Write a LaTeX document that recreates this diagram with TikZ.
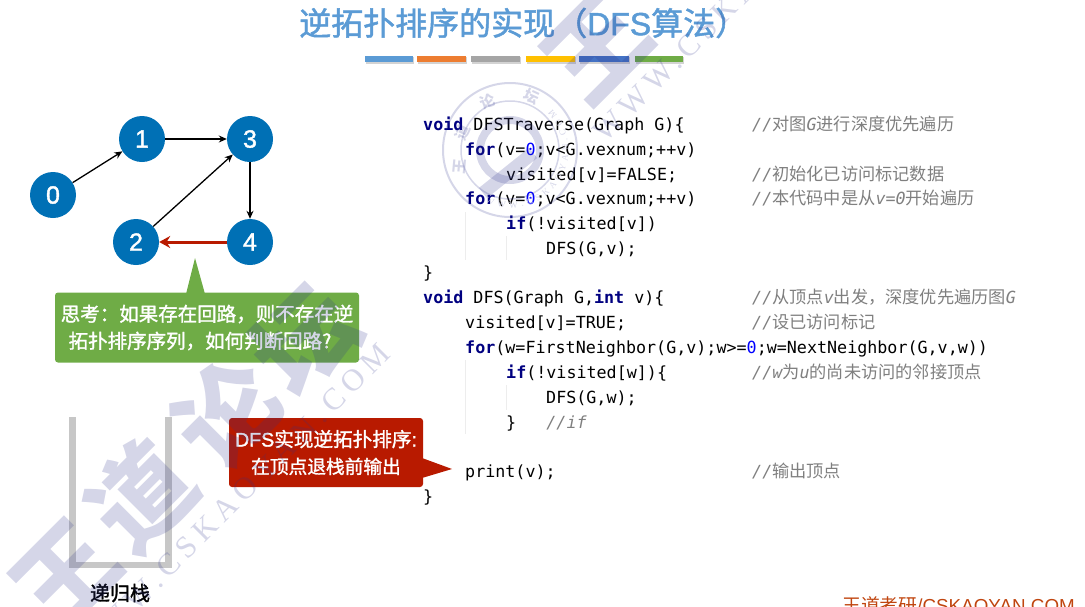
\documentclass[tikz,border=0pt]{standalone}
\usepackage{fontspec}
\usepackage{tikz}
\usetikzlibrary{arrows.meta,positioning,shadows,decorations.text}
\setmainfont{Liberation Sans}
\setmonofont{DejaVu Sans Mono}
\newfontfamily\cjk{Noto Sans CJK SC}
\newfontfamily\cjkmid[FakeBold=1.5]{Noto Sans CJK SC}
\newfontfamily\cjkcmt[Scale=1.03]{Noto Sans CJK SC}
\newfontfamily\latinmid[FakeBold=1.5]{Liberation Sans}
\newfontfamily\wmserif[LetterSpace=20]{Liberation Serif}
\newcommand{\zh}[1]{{\cjkcmt\upshape #1}}
\newcommand{\zhm}[1]{{\cjkmid #1}}
\newcommand{\kw}[1]{\textcolor{kwnavy}{\textbf{#1}}}
\newcommand{\zero}{\textcolor{numblue}{0}}
\newcommand{\cmt}[1]{\textcolor{cmtgray}{\itshape #1}}
\definecolor{kwnavy}{HTML}{000080}
\definecolor{numblue}{HTML}{0000FF}
\definecolor{cmtgray}{HTML}{7F7F7F}
\definecolor{vertblue}{HTML}{0070B5}
\definecolor{titleblue}{HTML}{5B9BD5}
\definecolor{barorange}{HTML}{ED7D31}
\definecolor{bargray}{HTML}{A5A5A5}
\definecolor{baryellow}{HTML}{FFC000}
\definecolor{bardark}{HTML}{4472C4}
\definecolor{notegreen}{HTML}{6FAC46}
\definecolor{notered}{HTML}{B81A00}
\definecolor{footorange}{HTML}{C0450F}
\definecolor{wmblue}{HTML}{2D328C}
\definecolor{wmpale}{HTML}{D5D6E8}

\begin{document}
\begin{tikzpicture}[
    x=1pt, y=-1pt,
    vert/.style={circle, fill=vertblue, text=white, inner sep=0pt,
                 minimum size=46pt, font=\fontsize{25}{25}\latinmid},
    arr/.style={-{Stealth[length=8pt,width=7pt]}, line width=1.3pt, black},
    redarr/.style={-{Stealth[length=11pt,width=12pt]}, line width=3pt, notered},
    bar/.style={rectangle, inner sep=0pt, minimum height=6.5pt,
                drop shadow={shadow xshift=0.5pt, shadow yshift=-1.5pt, opacity=0.35}},
    code/.style={anchor=base west, inner sep=0pt,
                 font=\fontsize{16.7}{16.7}\selectfont\ttfamily},
    guide/.style={line width=0.5pt, black!7},
    notebox/.style={rectangle, rounded corners=3pt, text=white, inner sep=0pt, align=center},
    wmtext/.style={rotate=45, text=wmblue, text opacity=0.2, inner sep=0pt},
    wmbig/.style={wmtext, font=\fontsize{100}{100}\cjk\bfseries},
    wmsmall/.style={text=wmblue, text opacity=0.2, inner sep=0pt, font=\fontsize{15}{15}\cjk\bfseries},
    wmline/.style={wmblue, opacity=0.2},
]
\useasboundingbox (0,0) rectangle (1085,606);
\clip (0,0) rectangle (1085,606);

% title
\node[anchor=west, font=\fontsize{32}{32}\latinmid, text=titleblue, inner sep=0pt] (title) at (299,23)
    {\zhm{逆拓扑排序的实现（}DFS\zhm{算法）}};

% colour bars
\node[bar, fill=titleblue, minimum width=48pt] (b1) at (389,59) {};
\node[bar, fill=barorange, minimum width=49pt] (b2) at (441.5,59) {};
\node[bar, fill=bargray, minimum width=49pt] (b3) at (495.5,59) {};
\node[bar, fill=baryellow, minimum width=49pt] (b4) at (550.5,59) {};
\node[bar, fill=bardark, minimum width=50pt] (b5) at (604,59) {};
\node[bar, fill=notegreen, minimum width=48pt] (b6) at (659,59) {};

% graph
\node[vert] (n0) at (53,195) {0};
\node[vert] (n1) at (142,139) {1};
\node[vert] (n3) at (250,139) {3};
\node[vert] (n2) at (136,242) {2};
\node[vert] (n4) at (250,242) {4};

\draw[arr] (n0) -- (n1);
\draw[arr] (n1) -- (n3);
\draw[arr] (n2) -- (n3);
\draw[arr] (n3) -- (n4);
\draw[redarr] (n4) -- (n2);

% green note
\fill[notegreen] (186,294) -- (195,258) -- (205,294) -- cycle;
\node[notebox, fill=notegreen, minimum width=304pt, minimum height=70pt,
      font=\fontsize{19.5}{27}\cjkmid] (think) at (207,327.5)
    {思考：如果存在回路，则不存在逆\\拓扑排序序列，如何判断回路?\hspace*{14pt}};

% stack
\draw[line width=6.5pt, black, opacity=0.22] (72.5,417) -- (72.5,565) -- (168.5,565) -- (168.5,417);
\node[font=\fontsize{20}{20}\cjkmid, inner sep=0pt] (stack) at (120,593) {递归栈};

% red note
\fill[notered] (422,458) -- (452,469) -- (422,478) -- cycle;
\node[notebox, fill=notered, minimum width=194pt, minimum height=69pt,
      font=\fontsize{18.7}{27}\cjkmid] (exit) at (326,452.5)
    {{\fontsize{19.6}{27}\selectfont\latinmid DFS\zhm{实现逆拓扑排序}:}\\在顶点退栈前输出};

% code
\draw[guide] (465,212) -- (465,260);
\draw[guide] (506,236) -- (506,260);
\draw[guide] (465,360) -- (465,434);
\draw[guide] (506,385) -- (506,410);

\node[code] (c1) at (423,130) {\kw{void} DFSTraverse(Graph G)\{};
\node[code] (c2) at (465,155) {\kw{for}(v=\zero;v<G.vexnum;++v)};
\node[code] (c3) at (506,180) {visited[v]=FALSE;};
\node[code] (c4) at (465,204) {\kw{for}(v=\zero;v<G.vexnum;++v)};
\node[code] (c5) at (506,229) {\kw{if}(!visited[v])};
\node[code] (c6) at (546,254) {DFS(G,v);};
\node[code] (c7) at (423,278) {\}};
\node[code] (c8) at (423,303) {\kw{void} DFS(Graph G,\kw{int} v)\{};
\node[code] (c9) at (465,328) {visited[v]=TRUE;};
\node[code] (c10) at (465,353) {\kw{for}(w=FirstNeighbor(G,v);w>=\zero;w=NextNeighbor(G,v,w))};
\node[code] (c11) at (506,378) {\kw{if}(!visited[w])\{};
\node[code] (c12) at (546,403) {DFS(G,w);};
\node[code] (c13) at (506,428) {\}~~~\cmt{//if}};
\node[code] (c14) at (465,477) {print(v);};
\node[code] (c15) at (423,502) {\}};

% comments
\node[code] (d1) at (752,130) {\cmt{//\zh{对图}G\zh{进行深度优先遍历}}};
\node[code] (d3) at (752,180) {\cmt{//\zh{初始化已访问标记数据}}};
\node[code] (d4) at (752,204) {\cmt{//\zh{本代码中是从}v=0\zh{开始遍历}}};
\node[code] (d8) at (752,303) {\cmt{//\zh{从顶点}v\zh{出发，深度优先遍历图}G}};
\node[code] (d9) at (752,328) {\cmt{//\zh{设已访问标记}}};
\node[code] (d11) at (752,378) {\cmt{//w\zh{为}u\zh{的尚未访问的邻接顶点}}};
\node[code] (d14) at (752,477) {\cmt{//\zh{输出顶点}}};

% footer
\node[anchor=base west, inner sep=0pt, text=footorange, font=\fontsize{18.8}{19}\selectfont] (foot) at (842,612)
    {{\cjk 王道考研}/CSKAOYAN.COM};

% watermark
\node[wmbig] (wm1) at (65,575) {王};
\node[wmbig] (wm2) at (141,495) {道};
\node[wmbig] (wm3) at (227,413) {论};
\node[wmbig] (wm4) at (305,340) {坛};
\node[wmbig] (wm5) at (596,48) {王};
\node[wmtext, anchor=east, font=\fontsize{31}{31}\wmserif] (wm6) at (385,349) {WWW.CSKAOYAN.COM};
\node[wmtext, anchor=west, font=\fontsize{31}{31}\wmserif] (wm7) at (598,137) {WWW.CSKAOYAN.COM};

% stamp
\draw[wmline, line width=2pt] (510,150) circle (67);
\draw[wmline, line width=1.5pt] (510,150) circle (49);
\draw[wmline, line width=8pt] (510,150) circle (30);
\draw[wmline, line width=13pt] (483,193) -- (533,153);
\node[wmsmall, rotate=85] (wm8) at (460,167) {王};
\node[wmsmall, rotate=65] (wm9) at (463,132) {道};
\node[wmsmall, rotate=20] (wm10) at (488,102) {论};
\node[wmsmall, rotate=-25] (wm11) at (532,97) {坛};
\path[postaction={decorate}, decoration={text along path, text align={fit to path},
      text={|\fontsize{9}{9}\selectfont\wmserif\color{wmpale}|WWW.CSKAOYAN.COM}}]
    (485,202) arc (116:-44:58);
\end{tikzpicture}
\end{document}
